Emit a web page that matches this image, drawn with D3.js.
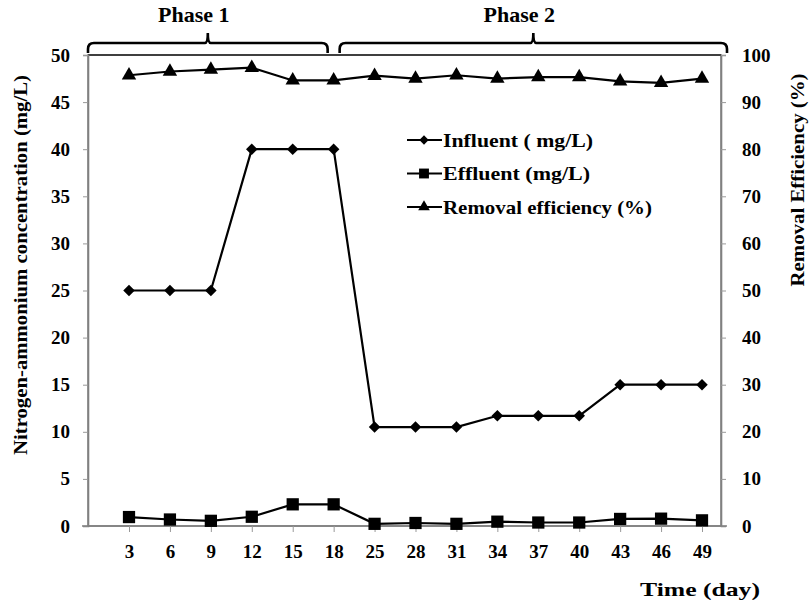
<!DOCTYPE html>
<html>
<head>
<meta charset="utf-8">
<script src="https://cdn.jsdelivr.net/npm/d3@7"></script>
<style>
  body { margin: 0; background: #fff; }
  text { font-family: "Liberation Serif", "Times New Roman", serif; font-weight: bold; fill: #000; }
</style>
</head>
<body>
<svg id="chart" width="812" height="606"></svg>
<script>
// Data
const days = ["3", "6", "9", "12", "15", "18", "25", "28", "31", "34", "37", "40", "43", "46", "49"];
const influent = [25, 25, 25, 40, 40, 40, 10.5, 10.5, 10.5, 11.7, 11.7, 11.7, 15, 15, 15];
const effluent = [0.95, 0.69, 0.55, 0.98, 2.3, 2.3, 0.23, 0.32, 0.23, 0.46, 0.37, 0.37, 0.75, 0.78, 0.6];
const removal = [95.7, 96.5, 96.9, 97.3, 94.6, 94.6, 95.6, 95.0, 95.7, 95.0, 95.3, 95.3, 94.4, 94.1, 95.0];
const leftTicks = [0, 5, 10, 15, 20, 25, 30, 35, 40, 45, 50];
const rightTicks = [0, 10, 20, 30, 40, 50, 60, 70, 80, 90, 100];
const seriesNames = ["Influent ( mg/L)", "Effluent (mg/L)", "Removal efficiency (%)"];
const phaseNames = ["Phase 1", "Phase 2"];

const svg = d3.select("#chart");
const box = { left: 88, right: 721, top: 55, bottom: 526 };

const x = d3.scalePoint().domain(days).range([129, 702]);
const yL = d3.scaleLinear().domain([0, 50]).range([box.bottom, box.top]);
const yR = d3.scaleLinear().domain([0, 100]).range([box.bottom, box.top]);

// plot frame
svg.append("rect")
  .attr("x", box.left).attr("y", box.top)
  .attr("width", box.right - box.left).attr("height", box.bottom - box.top)
  .attr("fill", "none").attr("stroke", "#808080").attr("stroke-width", 1.6);
svg.append("line")
  .attr("x1", box.left).attr("x2", box.right)
  .attr("y1", box.top).attr("y2", box.top)
  .attr("stroke", "#222").attr("stroke-width", 1.4);

function styleAxis(g) {
  g.select(".domain").attr("stroke", "#808080").attr("stroke-width", 1.6);
  g.selectAll(".tick line").attr("stroke", "#999");
  g.selectAll(".tick text")
    .style("font-size", "19px")
    .style("font-family", "Liberation Serif")
    .style("font-weight", "bold")
    .attr("fill", "#000");
}

// left axis
svg.append("g").attr("transform", `translate(${box.left},0)`)
  .call(d3.axisLeft(yL).tickValues(leftTicks).tickSize(5).tickPadding(13))
  .call(styleAxis);

// right axis
svg.append("g").attr("transform", `translate(${box.right},0)`)
  .call(d3.axisRight(yR).tickValues(rightTicks).tickSize(5).tickPadding(16))
  .call(styleAxis);

// bottom axis
const gb = svg.append("g").attr("transform", `translate(0,${box.bottom})`)
  .call(d3.axisBottom(x).tickSize(6).tickPadding(13))
  .call(styleAxis);
gb.select(".domain").attr("d", `M${box.left - 6},0H${box.right + 6}`);

// axis titles
svg.append("text")
  .attr("transform", "translate(27,265) rotate(-90)")
  .attr("text-anchor", "middle").style("font-size", "18px")
  .attr("textLength", 380).attr("lengthAdjust", "spacingAndGlyphs")
  .text("Nitrogen-ammonium concentration (mg/L)");
svg.append("text")
  .attr("transform", "translate(804,180) rotate(-90)")
  .attr("text-anchor", "middle").style("font-size", "18px")
  .attr("textLength", 213).attr("lengthAdjust", "spacingAndGlyphs")
  .text("Removal Efficiency (%)");
svg.append("text")
  .attr("x", 640).attr("y", 596)
  .style("font-size", "19px")
  .attr("textLength", 120).attr("lengthAdjust", "spacingAndGlyphs")
  .text("Time (day)");

// series
const diamondType = d3.symbolDiamond2 || d3.symbolDiamond;
const series = [
  { name: seriesNames[0], values: influent, y: yL, sym: diamondType, size: 85 },
  { name: seriesNames[1], values: effluent, y: yL, sym: d3.symbolSquare, size: 150 },
  { name: seriesNames[2], values: removal, y: yR, sym: d3.symbolTriangle, size: 90 }
];

series.forEach(s => {
  const line = d3.line().x((d, i) => x(days[i])).y(d => s.y(d));
  svg.append("path")
    .datum(s.values)
    .attr("d", line)
    .attr("fill", "none").attr("stroke", "#000").attr("stroke-width", 2.2);
  svg.append("g").selectAll("path")
    .data(s.values)
    .join("path")
    .attr("transform", (d, i) => `translate(${x(days[i])},${s.y(d)})`)
    .attr("d", d3.symbol().type(s.sym).size(s.size))
    .attr("fill", "#000");
});

// legend
const legendWidths = [150, 147, 209];
const legend = svg.append("g").attr("transform", "translate(407,140)");
series.forEach((s, i) => {
  const g = legend.append("g").attr("transform", `translate(0,${i * 33.5})`);
  g.append("line").attr("x1", 0).attr("x2", 35).attr("y1", 0).attr("y2", 0)
    .attr("stroke", "#000").attr("stroke-width", 2.2);
  g.append("path").attr("transform", "translate(17,0)")
    .attr("d", d3.symbol().type(s.sym).size(s.size * 0.65)).attr("fill", "#000");
  g.append("text").attr("x", 36).attr("y", 6.7).style("font-size", "19px")
    .attr("textLength", legendWidths[i]).attr("lengthAdjust", "spacingAndGlyphs")
    .text(s.name);
});

// phase braces: phase 1 covers days 3-18, phase 2 the rest
const phaseSpans = [
  [box.left, x("18") - 6],
  [x("18") + 6, box.right + 6]
];
phaseSpans.forEach(([a, b], i) => {
  const mid = (a + b) / 2, yb = 43, r = 6;
  const path = d3.path();
  path.moveTo(a, yb + 10);
  path.lineTo(a, yb + r);
  path.quadraticCurveTo(a, yb, a + r, yb);
  path.lineTo(mid - 3, yb);
  path.quadraticCurveTo(mid, yb, mid, yb - 10);
  path.quadraticCurveTo(mid, yb, mid + 3, yb);
  path.lineTo(b - r, yb);
  path.quadraticCurveTo(b, yb, b, yb + r);
  path.lineTo(b, yb + 10);
  svg.append("path").attr("d", path.toString())
    .attr("fill", "none").attr("stroke", "#000").attr("stroke-width", 2.6);
  svg.append("text").attr("x", mid - 14).attr("y", 22)
    .attr("text-anchor", "middle").style("font-size", "22px")
    .text(phaseNames[i]);
});
</script>
</body>
</html>
